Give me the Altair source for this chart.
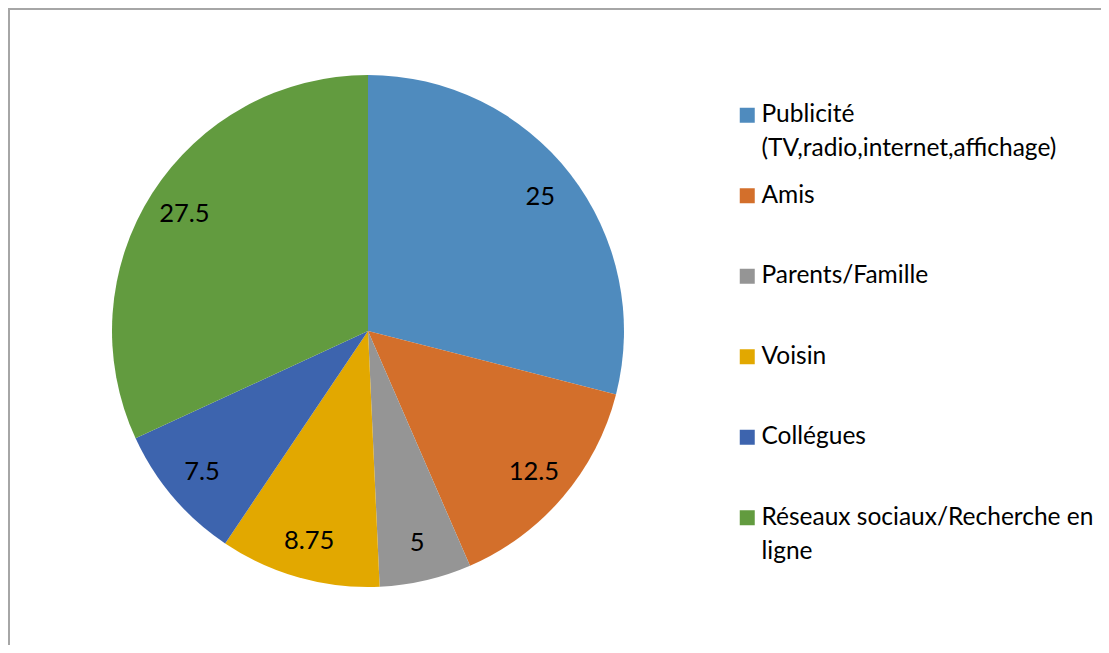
import altair as alt
import pandas as pd

categories = [
    "Publicité (TV,radio,internet,affichage)",
    "Amis",
    "Parents/Famille",
    "Voisin",
    "Collégues",
    "Réseaux sociaux/Recherche en ligne",
]
legend_lines = [
    ["Publicité", "(TV,radio,internet,affichage)"],
    ["Amis"],
    ["Parents/Famille"],
    ["Voisin"],
    ["Collégues"],
    ["Réseaux sociaux/Recherche en", "ligne"],
]
values = [25, 12.5, 5, 8.75, 7.5, 27.5]
colors = ["#4F8BBE", "#D36F2B", "#959595", "#E2A800", "#3D64AE", "#629B3F"]

df = pd.DataFrame({"category": categories, "value": values, "idx": list(range(len(values)))})

FONT = "Lato"
FS = 25.5
LFS = 24.5
W, H = 1093, 637
CX, CY, R = 360, 323, 256

mapping = "{" + ", ".join(
    "'" + c + "': [" + ", ".join("'" + l + "'" for l in lines) + "]"
    for c, lines in zip(categories, legend_lines)
) + "}"

base = alt.Chart(df)

arcs = base.mark_arc(radius=R).encode(
    theta=alt.Theta("value:Q", stack=True),
    order=alt.Order("idx:Q"),
    x=alt.value(CX),
    y=alt.value(CY),
    color=alt.Color(
        "category:N",
        sort=categories,
        scale=alt.Scale(domain=categories, range=colors),
        legend=alt.Legend(
            title=None,
            orient="none",
            legendX=727,
            legendY=95,
            symbolType="square",
            symbolSize=225,
            symbolStrokeWidth=0,
            labelFont=FONT,
            labelFontSize=LFS,
            labelColor="#000000",
            labelLimit=500,
            labelOffset=2,
            labelBaseline="top",
            labelExpr=mapping + "[datum.label]",
            gridAlign="all",
            rowPadding=21.5,
            padding=0,
        ),
    ),
)

labels = base.mark_text(radius=218, font=FONT, fontSize=FS, color="#000000").encode(
    theta=alt.Theta("value:Q", stack=True),
    order=alt.Order("idx:Q"),
    x=alt.value(CX),
    y=alt.value(CY),
    text=alt.Text("value:Q", format="~g"),
)

frame_data = alt.Data(values=[{"k": 1}])
top_line = alt.Chart(frame_data).mark_rule(color="#A6A6A6", strokeWidth=2).encode(
    x=alt.value(0), x2=alt.value(W), y=alt.value(1)
)
left_line = alt.Chart(frame_data).mark_rule(color="#A6A6A6", strokeWidth=2).encode(
    x=alt.value(1), y=alt.value(0), y2=alt.value(H)
)

chart = alt.layer(arcs, labels, top_line, left_line).properties(
    width=W, height=H, padding=0, autosize=alt.AutoSizeParams(type="none")
).configure_view(stroke=None).configure(
    background="#FFFFFF",
    style={"guide-label": {"lineHeight": 34, "dy": -12}},
)

chart.save("out.html", embed_options={"renderer": "svg", "actions": False})
